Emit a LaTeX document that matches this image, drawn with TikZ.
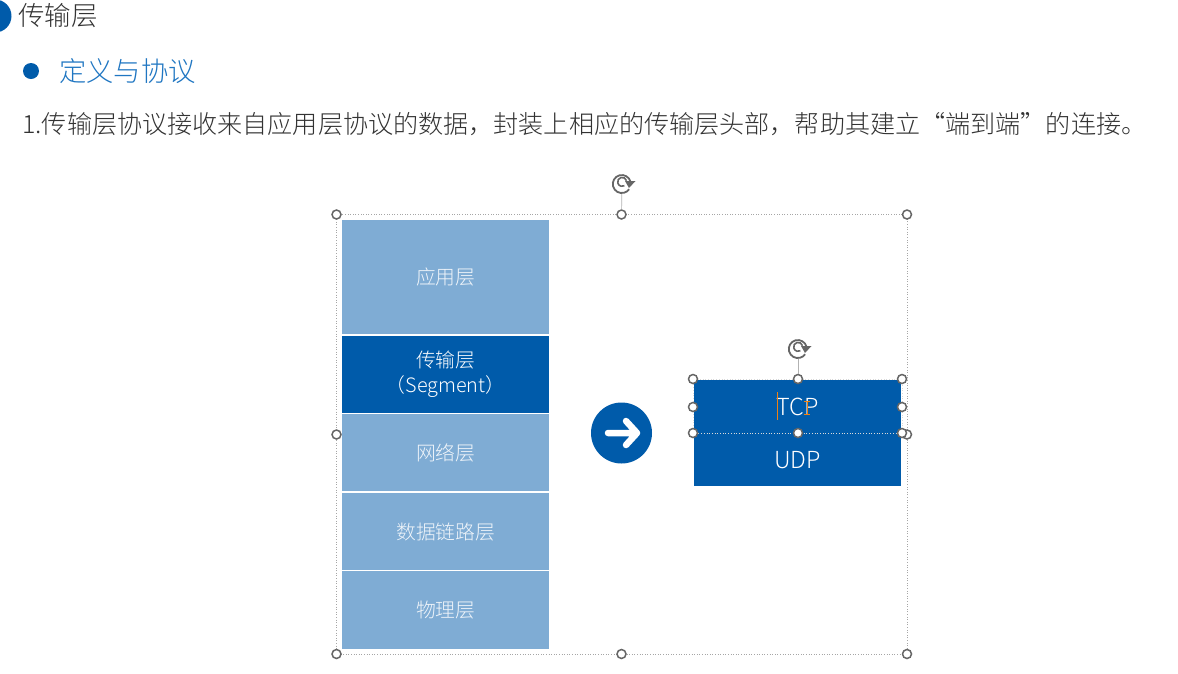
\documentclass[tikz,border=0pt]{standalone}
\usepackage{fontspec}
\setmainfont[UprightFont=* Light,BoldFont=*]{Noto Sans CJK SC}
\usetikzlibrary{arrows.meta}
\definecolor{dk}{HTML}{005BAA}
\definecolor{lt}{HTML}{7FACD4}
\definecolor{sub}{HTML}{1F76C2}
\definecolor{hg}{HTML}{666666}
\definecolor{ttl}{HTML}{333333}
\tikzset{
  layerbox/.style={rectangle,inner sep=0pt,minimum width=207pt,anchor=north west,align=center,text=white,font=\fontsize{19.8}{25}\selectfont},
  lightbox/.style={layerbox,fill=lt,text=white!88!lt},
  darkbox/.style={layerbox,fill=dk},
  protobox/.style={rectangle,inner sep=0pt,minimum width=207pt,minimum height=53pt,anchor=north west,fill=dk,text=white,font=\fontsize{23.5}{26}\selectfont},
  handle/.style={circle,draw=hg,line width=1.5pt,fill=white,inner sep=0pt,minimum size=9pt},
  selbox/.style={draw=black!35,line width=.6pt,dotted},
  stem/.style={draw=black!30,line width=.7pt},
  rotor/.style={circle,inner sep=0pt,minimum size=20pt},
}
\newcommand{\rotglyph}[2]{%
  \draw[hg,line width=1.8pt] (#1+8.5,#2-2.3) arc[start angle=15,end angle=325,radius=9pt];
  \draw[hg,line width=1.6pt] (#1+4.5,#2-3.3) arc[start angle=15,end angle=300,radius=4.5pt];
  \fill[hg] (#1+3,#2-3) -- (#1+13.5,#2-3) -- (#1+7,#2+4) -- cycle;
}
\begin{document}
\begin{tikzpicture}[x=1pt,y=-1pt]
\useasboundingbox[fill=white] (0,0) rectangle (1178,673);
\clip (0,0) rectangle (1178,673);
% header
\fill[dk] (-5,16) circle[radius=16.5pt];
\node[anchor=west,inner sep=0pt,text=ttl,font=\fontsize{26.5}{30}\selectfont] (title) at (18,15.5) {传输层};
\fill[dk] (31,71) circle[radius=8pt];
\node[anchor=west,inner sep=0pt,text=sub,font=\fontsize{27.3}{30}\selectfont] (subtitle) at (59,71) {定义与协议};
\node[anchor=west,inner sep=0pt,text=ttl,font=\fontsize{25.1}{30}\selectfont] (body) at (22,124.5) {1.传输层协议接收来自应用层协议的数据，封装上相应的传输层头部，帮助其建立“端到端”的连接。};
% layers
\node[lightbox,minimum height=114pt] (app) at (342,220) {应用层};
\node[darkbox,minimum height=77pt] (trans) at (342,336) {传输层\\（Segment）};
\node[lightbox,minimum height=77pt] (net) at (342,414) {网络层};
\node[lightbox,minimum height=77pt] (link) at (342,493) {数据链路层};
\node[lightbox,minimum height=78pt] (phys) at (342,571) {物理层};
% arrow
\node[circle,fill=dk,inner sep=0pt,minimum size=61pt] (go) at (621.5,433) {};
\draw[white,line width=6.5pt,line cap=round,line join=round] (608,433) -- (635,433) (626,421) -- (637,433) -- (626,445);
% protocols
\node[protobox] (tcp) at (694,380) {TCP};
\node[protobox] (udp) at (694,433) {UDP};
% outer selection
\coordinate (oa) at (336,214);
\coordinate (ob) at (907,654);
\draw[selbox] (oa) rectangle (ob);
\node[rotor] (rot1) at (622,184) {};
\rotglyph{622}{184}
\node[handle] (h1) at (621.5,214.5) {};
\draw[stem] (rot1) -- (h1);
\node[handle] at (336.5,214.5) (h0) {};
\node[handle] at (907,214.5) (h2) {};
\node[handle] at (336.5,434.5) (h3) {};
\node[handle] at (907,434.5) (h4) {};
\node[handle] at (336.5,654) (h5) {};
\node[handle] at (621.5,654) (h6) {};
\node[handle] at (907,654) (h7) {};
% inner selection
\draw[draw=white!85!black,line width=.7pt,dotted] (693,379) rectangle (902,433);
\node[rotor] (rot2) at (798,349) {};
\rotglyph{798}{349}
\node[handle] (k1) at (798,379) {};
\draw[stem] (rot2) -- (k1);
\node[handle] at (693,379) (k0) {};
\node[handle] at (902,379) (k2) {};
\node[handle] at (693,407) (k3) {};
\node[handle] at (902,407) (k4) {};
\node[handle] at (693,433) (k5) {};
\node[handle] at (798,433) (k6) {};
\node[handle] at (902,433) (k7) {};
% caret and cursor
\draw[orange!70!brown,line width=.7pt] (777.5,392) -- (777.5,420);
\draw[orange!70!brown,line width=.8pt] (804,401) -- (810,401) (807,401) -- (807,414) (804,414) -- (810,414);
\end{tikzpicture}
\end{document}
